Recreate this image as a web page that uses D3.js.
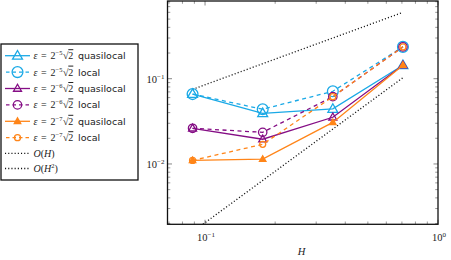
<!DOCTYPE html>
<html><head><meta charset="utf-8">
<script src="https://cdn.jsdelivr.net/npm/d3@7"></script>
<style>body{margin:0;background:#fff}svg{display:block}</style>
</head><body><svg id="c" width="451" height="260"></svg>
<script>
const H = [0.0884, 0.1768, 0.3536, 0.7071];
const blueQuasi = [0.066, 0.0393, 0.0442, 0.144];
const blueLocal = [0.066, 0.0438, 0.0712, 0.236];
const purpleQuasi = [0.0262, 0.0195, 0.0353, 0.144];
const purpleLocal = [0.0262, 0.0235, 0.0615, 0.236];
const orangeQuasi = [0.0110, 0.0114, 0.0307, 0.144];
const orangeLocal = [0.0110, 0.0170, 0.0615, 0.236];
const refH = [0.075, 0.6];
const refH2 = [0.0016, 0.1027];
const refX = [0.0884, 0.7071];
const xTicks = [0.1, 1];
const yTicks = [0.01, 0.1];
const seriesNames = ["quasilocal","local","quasilocal","local","quasilocal","local"];
const seriesExp = ["−5","−5","−6","−6","−7","−7"];

const blue = "#1aa9e6", purple = "#850e85", orange = "#ff8519";
const series = [
  {v: blueQuasi, c: blue, dash: null, m: "tri", s: 5.2, fill: false},
  {v: blueLocal, c: blue, dash: "4,3.5", m: "circ", s: 5.4, fill: false},
  {v: purpleQuasi, c: purple, dash: null, m: "tri", s: 4.2, fill: false},
  {v: purpleLocal, c: purple, dash: "4,3.5", m: "circ", s: 4.2, fill: false},
  {v: orangeQuasi, c: orange, dash: null, m: "tri", s: 3.4, fill: true},
  {v: orangeLocal, c: orange, dash: "4,3.5", m: "circ", s: 3.0, fill: false},
];

const svg = d3.select("#c");
const L = 167.5, R = 438, T = 1, B = 224.3;
const x = d3.scaleLog().domain([0.069, 1]).range([L, R]);
const y = d3.scaleLog().domain([0.00196, 0.815]).range([B, T]);

svg.append("clipPath").attr("id","clip").append("rect")
  .attr("x", L).attr("y", T).attr("width", R-L).attr("height", B-T);

const g = svg.append("g");
const xMinor = [], yMinor = [];
for (const d of [0.01, 0.1]) for (let k = 2; k <= 9; k++) { const v=k*d; if (v>=0.069 && v<=1) xMinor.push(v); }
for (const d of [0.001, 0.01, 0.1]) for (let k = 2; k <= 9; k++) { const v=k*d; if (v>=0.00196 && v<=0.815) yMinor.push(v); }
const tickCol = "#555";
xMinor.forEach(v => {
  g.append("line").attr("x1", x(v)).attr("x2", x(v)).attr("y1", B).attr("y2", B-2.8).attr("stroke", tickCol).attr("stroke-width", 0.6);
  g.append("line").attr("x1", x(v)).attr("x2", x(v)).attr("y1", T).attr("y2", T+2.8).attr("stroke", tickCol).attr("stroke-width", 0.6);
});
yMinor.forEach(v => {
  g.append("line").attr("y1", y(v)).attr("y2", y(v)).attr("x1", L).attr("x2", L+2.8).attr("stroke", tickCol).attr("stroke-width", 0.6);
  g.append("line").attr("y1", y(v)).attr("y2", y(v)).attr("x1", R).attr("x2", R-2.8).attr("stroke", tickCol).attr("stroke-width", 0.6);
});
xTicks.forEach(v => {
  g.append("line").attr("x1", x(v)).attr("x2", x(v)).attr("y1", B).attr("y2", B-4.5).attr("stroke", tickCol).attr("stroke-width", 0.7);
  g.append("line").attr("x1", x(v)).attr("x2", x(v)).attr("y1", T).attr("y2", T+4.5).attr("stroke", tickCol).attr("stroke-width", 0.7);
});
yTicks.forEach(v => {
  g.append("line").attr("y1", y(v)).attr("y2", y(v)).attr("x1", L).attr("x2", L+4.5).attr("stroke", tickCol).attr("stroke-width", 0.7);
  g.append("line").attr("y1", y(v)).attr("y2", y(v)).attr("x1", R).attr("x2", R-4.5).attr("stroke", tickCol).attr("stroke-width", 0.7);
});

const serif = "'Liberation Serif', 'DejaVu Serif', serif";
const sans = "'DejaVu Sans', 'Liberation Sans', sans-serif";
function pow10Label(sel, xx, yy, exp, anchor) {
  const t = sel.append("text").attr("x", xx).attr("y", yy).attr("font-family", serif)
    .attr("font-size", 10.5).attr("fill", "#222").attr("text-anchor", anchor);
  t.append("tspan").text("10");
  if (exp) t.append("tspan").attr("font-size", 7).attr("dy", -4).text(exp);
  return t;
}
xTicks.forEach(v => {
  const e = Math.round(Math.log10(v));
  pow10Label(svg, x(v) + 1, 240.5, e === 0 ? "0" : "−" + (-e), "middle");
});
yTicks.forEach(v => {
  const e = Math.round(Math.log10(v));
  pow10Label(svg, L - 3, y(v) + 4, "−" + (-e), "end");
});
svg.append("text").attr("x", 301.5).attr("y", 254.5).attr("font-family", serif).attr("font-style","italic")
  .attr("font-size", 10.5).attr("text-anchor","middle").attr("fill","#222").text("H");

const pc = svg.append("g").attr("clip-path", "url(#clip)");
const line = d3.line().x(d => x(d[0])).y(d => y(d[1]));
pc.append("path").datum(refX.map((h,i)=>[h, refH[i]])).attr("d", line)
  .attr("fill","none").attr("stroke","#111").attr("stroke-width",1.3).attr("stroke-dasharray","1.1,2.1");
pc.append("path").datum(refX.map((h,i)=>[h, refH2[i]])).attr("d", line)
  .attr("fill","none").attr("stroke","#111").attr("stroke-width",1.3).attr("stroke-dasharray","1.1,2.1");

function marker(sel, m, cx, cy, s, c, fill) {
  if (m === "tri") {
    const pts = [[cx, cy - s], [cx + s*0.95, cy + s*0.65], [cx - s*0.95, cy + s*0.65]];
    sel.append("path").attr("d", "M" + pts.map(p=>p.join(",")).join("L") + "Z")
      .attr("fill", fill ? c : "none").attr("stroke", c).attr("stroke-width", 1.3);
  } else {
    sel.append("circle").attr("cx", cx).attr("cy", cy).attr("r", s)
      .attr("fill", fill ? c : "none").attr("stroke", c).attr("stroke-width", 1.3);
  }
}

series.forEach(s => {
  const data = H.map((h,i)=>[h, s.v[i]]);
  const p = pc.append("path").datum(data).attr("d", line).attr("fill","none")
    .attr("stroke", s.c).attr("stroke-width", 1.3);
  if (s.dash) p.attr("stroke-dasharray", s.dash);
  data.forEach(d => marker(pc, s.m, x(d[0]), y(d[1]), s.s, s.c, s.fill));
});

svg.append("rect").attr("x", L).attr("y", T).attr("width", R-L).attr("height", B-T)
  .attr("fill","none").attr("stroke","#111").attr("stroke-width",1.3);

const lg = svg.append("g");
lg.append("rect").attr("x", 1).attr("y", 44).attr("width", 137).attr("height", 136)
  .attr("fill","#fff").attr("stroke","#111").attr("stroke-width",1.3);
const rowY0 = 55.7, rowDY = 16.4;
series.forEach((s, i) => {
  const yy = rowY0 + i*rowDY;
  const l = lg.append("line").attr("x1", 5).attr("x2", 30).attr("y1", yy).attr("y2", yy)
    .attr("stroke", s.c).attr("stroke-width", 1.3);
  if (s.dash) l.attr("stroke-dasharray", "3.5,3").attr("x1", 6);
  marker(lg, s.m, 17.5, yy, s.s, s.c, s.fill);
  const by = yy + 3.5;
  const t = lg.append("text").attr("y", by).attr("font-size", 10).attr("fill", "#222").attr("font-family", serif);
  t.append("tspan").attr("x", 33.5).attr("font-style","italic").text("ε");
  t.append("tspan").attr("x", 41).text("=");
  t.append("tspan").attr("x", 50.5).text("2");
  t.append("tspan").attr("x", 55.5).attr("font-size", 6.5).attr("dy", -4).text(seriesExp[i]);
  t.append("tspan").attr("x", 63).attr("dy", 4).text("√");
  t.append("tspan").attr("x", 68.3).style("text-decoration","overline").text("2");
  t.append("tspan").attr("x", 78).attr("font-family", sans).attr("font-size", 9.5).text(seriesNames[i]);
});
["H", "H2"].forEach((lab, j) => {
  const yy = rowY0 + (6 + j)*rowDY - (j ? 2 : 0.8);
  lg.append("line").attr("x1", 5).attr("x2", 30).attr("y1", yy).attr("y2", yy)
    .attr("stroke", "#111").attr("stroke-width", 1.3).attr("stroke-dasharray", "1.1,2.1");
  const t = lg.append("text").attr("x", 33.5).attr("y", yy + 3.5).attr("font-size", 10)
    .attr("font-family", serif).attr("fill", "#222");
  t.append("tspan").attr("font-style","italic").text("O");
  t.append("tspan").text("(");
  t.append("tspan").attr("font-style","italic").text("H");
  if (j) {
    t.append("tspan").attr("font-size", 6.5).attr("dy", -4).text("2");
    t.append("tspan").attr("dy", 4).text(")");
  } else t.append("tspan").text(")");
});
</script></body></html>
